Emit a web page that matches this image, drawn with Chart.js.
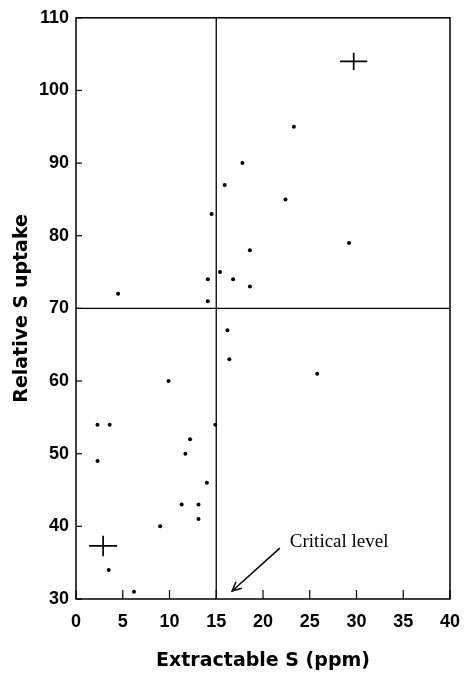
<!DOCTYPE html>
<html>
<head>
<title>Relative S uptake</title>
<script src="https://cdn.jsdelivr.net/npm/chart.js"></script>
<style>
  body { margin: 0; background: #fff; }
  #wrap { width: 470px; height: 677px; }
</style>
</head>
<body>
<div id="wrap"><canvas id="chart"></canvas></div>
<script>
// soil samples: extractable S (ppm) vs relative S uptake
const extractS = [4.5, 14.1, 14.1, 14.5, 15.4, 15.9, 16.8, 17.8, 18.6, 18.6, 22.4, 23.3, 29.2,
                  16.2, 16.4, 25.8, 9.9, 2.3, 3.6, 14.9, 12.2, 11.7, 2.3, 14.0, 11.3, 13.1, 13.1, 9.0, 3.5, 6.2];
const uptake = [72, 74, 71, 83, 75, 87, 74, 90, 78, 73, 85, 95, 79,
                67, 63, 61, 60, 54, 54, 54, 52, 50, 49, 46, 43, 43, 41, 40, 34, 31];

// group means with their spread (the two crosses)
const meanX = [29.7, 2.9];
const meanY = [104, 37.3];
const errX = [1.45, 1.5];
const errY = [1.2, 1.4];

// critical levels
const critS = 15;
const critUptake = 70;

// "Critical level" arrow, tail then head
const arrowX = [21.8, 16.7];
const arrowY = [37.0, 31.1];

const xTicks = [0, 5, 10, 15, 20, 25, 30, 35, 40];
const yTicks = [30, 40, 50, 60, 70, 80, 90, 100, 110];

const points = extractS.map((v, i) => ({ x: v, y: uptake[i] }));

const crossSets = [];
meanX.forEach((mx, i) => {
    crossSets.push({
        type: 'line', data: [{ x: mx - errX[i], y: meanY[i] }, { x: mx + errX[i], y: meanY[i] }],
        borderColor: '#000', borderWidth: 1.7, pointRadius: 0
    });
    crossSets.push({
        type: 'line', data: [{ x: mx, y: meanY[i] - errY[i] }, { x: mx, y: meanY[i] + errY[i] }],
        borderColor: '#000', borderWidth: 1.7, pointRadius: 0
    });
});

const boxAndTicks = {
    id: 'boxAndTicks',
    afterDatasetsDraw(chart) {
        const { ctx, chartArea: a, scales } = chart;
        ctx.save();
        ctx.strokeStyle = '#000';
        ctx.lineWidth = 1.5;
        ctx.strokeRect(a.left, a.top, a.right - a.left, a.bottom - a.top);
        ctx.lineWidth = 1.2;
        xTicks.forEach(v => {
            const px = scales.x.getPixelForValue(v);
            ctx.beginPath(); ctx.moveTo(px, a.bottom); ctx.lineTo(px, a.bottom - 9); ctx.stroke();
        });
        yTicks.forEach(v => {
            const py = scales.y.getPixelForValue(v);
            ctx.beginPath(); ctx.moveTo(a.left, py); ctx.lineTo(a.left + 6, py); ctx.stroke();
        });
        // arrow head and label
        const hx = scales.x.getPixelForValue(arrowX[1]), hy = scales.y.getPixelForValue(arrowY[1]);
        const tx = scales.x.getPixelForValue(arrowX[0]), ty = scales.y.getPixelForValue(arrowY[0]);
        const ang = Math.atan2(ty - hy, tx - hx);
        ctx.lineWidth = 1.5;
        ctx.beginPath();
        ctx.moveTo(hx + 10 * Math.cos(ang - 0.45), hy + 10 * Math.sin(ang - 0.45));
        ctx.lineTo(hx, hy);
        ctx.lineTo(hx + 10 * Math.cos(ang + 0.45), hy + 10 * Math.sin(ang + 0.45));
        ctx.stroke();
        ctx.fillStyle = '#000';
        ctx.font = '19px "Liberation Serif", serif';
        ctx.textBaseline = 'middle';
        ctx.fillText('Critical level', tx + 10, ty - 6);
        ctx.restore();
    }
};

const titleFont = { family: '"DejaVu Sans", sans-serif', size: 19, weight: 'bold' };
const tickFont = { family: '"Liberation Sans", Arial, sans-serif', size: 18, weight: 'bold' };

new Chart(document.getElementById('chart'), {
    type: 'scatter',
    data: {
        datasets: [
            { data: points, backgroundColor: '#000', borderColor: '#000', pointRadius: 2, pointBorderWidth: 0 },
            { type: 'line', data: [{ x: critS, y: 30 }, { x: critS, y: 110 }], borderColor: '#000', borderWidth: 1.3, pointRadius: 0 },
            { type: 'line', data: [{ x: 0, y: critUptake }, { x: 40, y: critUptake }], borderColor: '#000', borderWidth: 1.3, pointRadius: 0 },
            { type: 'line', data: arrowX.map((v, i) => ({ x: v, y: arrowY[i] })), borderColor: '#000', borderWidth: 1.5, pointRadius: 0 },
            ...crossSets
        ]
    },
    options: {
        responsive: true,
        maintainAspectRatio: false,
        animation: false,
        layout: { padding: { top: 16, right: 20, left: 0, bottom: 0 } },
        plugins: { legend: { display: false }, tooltip: { enabled: false } },
        scales: {
            x: {
                type: 'linear', min: 0, max: 40,
                afterFit(s) { s.height = 78; s.paddingRight = 0; s.paddingLeft = 0; },
                afterBuildTicks(s) { s.ticks = xTicks.map(v => ({ value: v })); },
                grid: { display: false, drawTicks: false },
                border: { display: false },
                ticks: { color: '#000', padding: 12, maxRotation: 0, font: tickFont },
                title: { display: true, text: 'Extractable S (ppm)', color: '#000', padding: { top: 0, bottom: 5 }, font: titleFont }
            },
            y: {
                type: 'linear', min: 30, max: 110,
                afterFit(s) { s.width = 76; },
                afterBuildTicks(s) { s.ticks = yTicks.map(v => ({ value: v })); },
                grid: { display: false, drawTicks: false },
                border: { display: false },
                ticks: { color: '#000', padding: 7, font: tickFont },
                title: { display: true, text: 'Relative S uptake', color: '#000', padding: { top: 11, bottom: 0 }, font: titleFont }
            }
        }
    },
    plugins: [boxAndTicks]
});
</script>
</body>
</html>
